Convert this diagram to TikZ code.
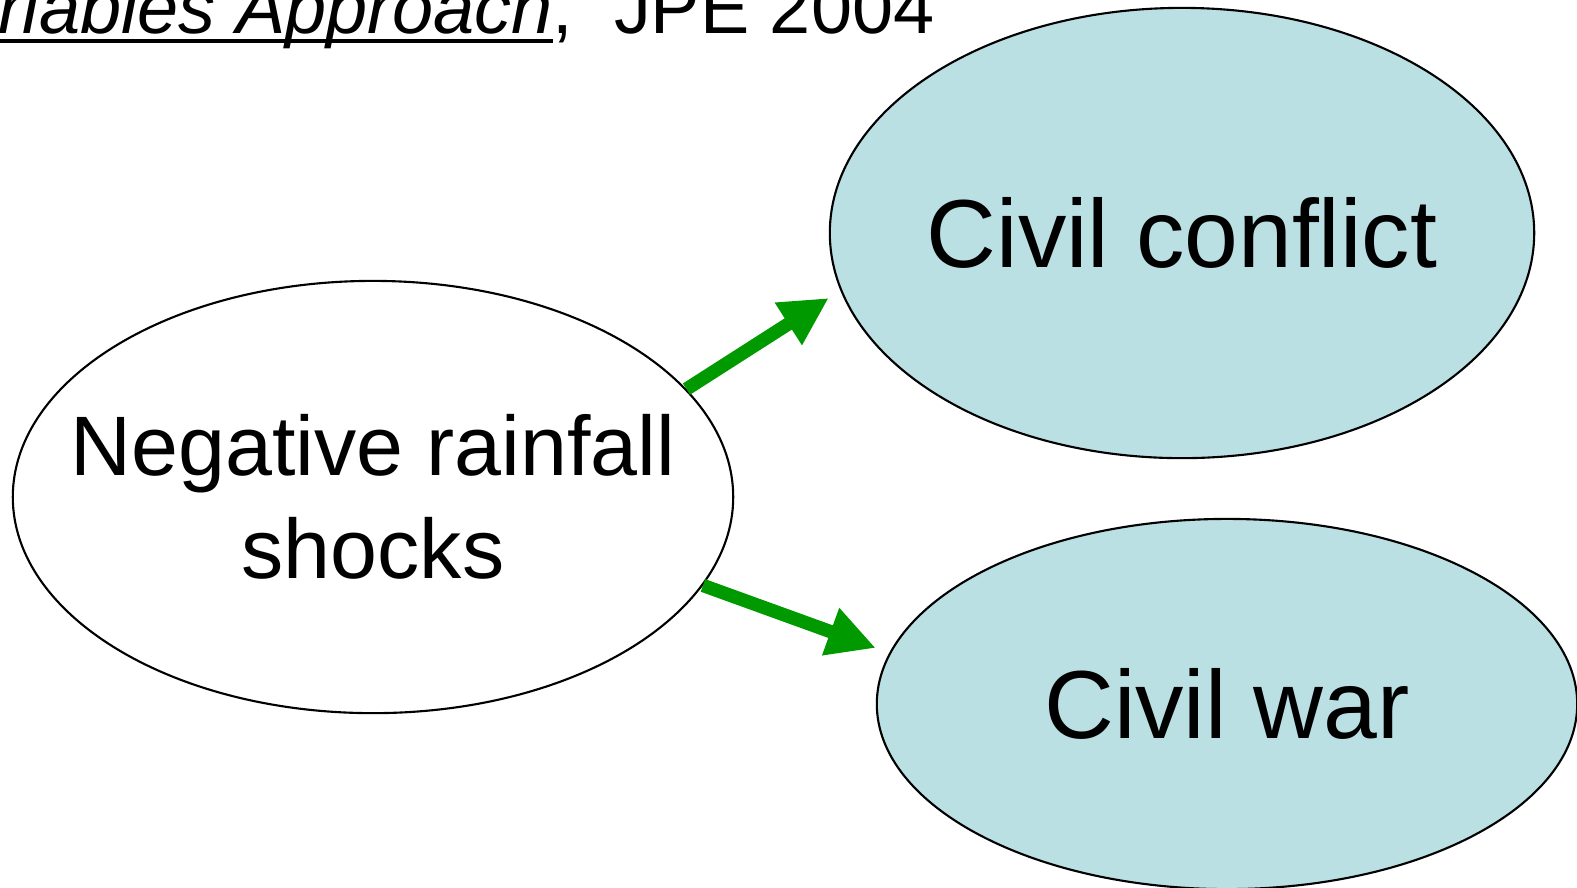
\documentclass[tikz,border=0pt]{standalone}
\usepackage{fontspec}
\setmainfont{Liberation Sans}
\usetikzlibrary{arrows.meta,shapes.geometric}
\definecolor{Cause}{HTML}{FFFFFF}
\definecolor{Effect}{HTML}{BAE0E4}
\definecolor{Link}{HTML}{009900}
\definecolor{Ink}{HTML}{000000}
\newcommand\titleul[1]{\setbox0\hbox{#1}\rlap{\rule[-2.8pt]{\wd0}{1.2pt}}\box0}
\begin{document}
\begin{tikzpicture}[x=0.01cm,y=-0.01cm,
    blob/.style={ellipse,draw=Ink,line width=0.6pt,inner sep=0pt},
    link/.style={Link,line width=3.8pt,-{Triangle[length=0.48cm,width=0.47cm]}}]
  \useasboundingbox (0,0) rectangle (1577,887);
  \clip (0,0) rectangle (1577,887);
  \node[anchor=base east,inner sep=0pt,font=\fontsize{21}{25}\selectfont] (title) at (935,33)
    {\titleul{\textit{Variables Approach}},\ \ JPE 2004};
  % ellipses first, their texts on top
  \node[blob,fill=Cause,minimum width=7.2cm,minimum height=4.32cm] (shocks) at (373,497) {};
  \node[blob,fill=Effect,minimum width=7.04cm,minimum height=4.5cm] (conflict) at (1182,233) {};
  \node[blob,fill=Effect,minimum width=7.0cm,minimum height=3.7cm] (war) at (1227,704) {};
  \node[align=center,font=\fontsize{24}{29.2}\selectfont] (shockstext) at (shocks) {Negative rainfall\\shocks};
  \node[font=\fontsize{27.5}{33}\selectfont] (conflicttext) at (conflict) {Civil conflict};
  \node[font=\fontsize{27.5}{33}\selectfont] (wartext) at (war) {Civil war};
  \draw[link] (shocks.19) -- ([yshift=-0.65cm]conflict.west);
  \draw[link] (shocks.-15) -- ([yshift=0.56cm]war.west);
\end{tikzpicture}
\end{document}
